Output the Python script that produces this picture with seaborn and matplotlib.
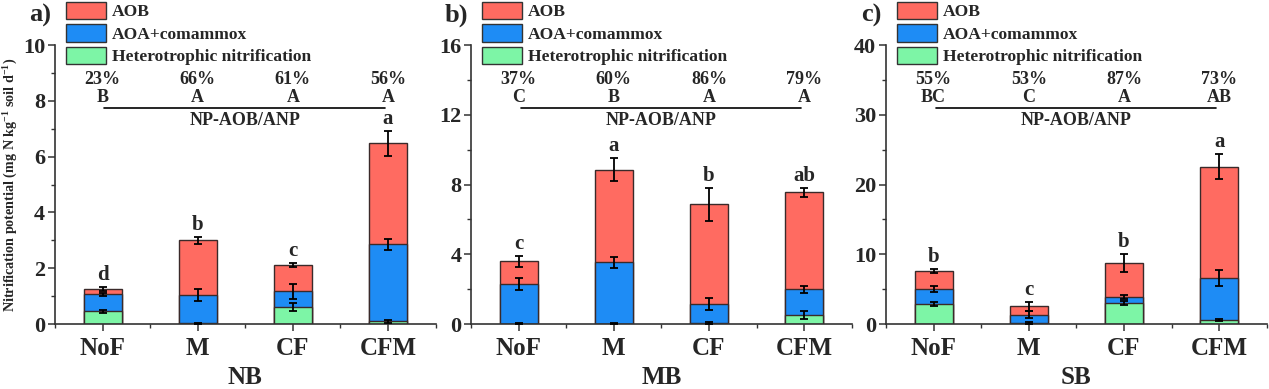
import numpy as np
import pandas as pd
import matplotlib
matplotlib.use("Agg")
import matplotlib.pyplot as plt
import seaborn as sns
from matplotlib.patches import Patch

# theme first, fonts after (set_theme resets font.family)
sns.set_theme(style="ticks")
plt.rcParams["font.family"] = ["Liberation Serif", "DejaVu Serif"]
plt.rcParams["font.weight"] = "bold"
plt.rcParams["axes.labelweight"] = "bold"
plt.rcParams["mathtext.default"] = "regular"

# data (segment heights, mg N kg-1 soil d-1)
treatments = ["NoF", "M", "CF", "CFM"]
components = ["AOB", "AOA+comammox", "Heterotrophic nitrification"]

nb_het = [0.46, 0.03, 0.61, 0.10]
nb_aoa = [0.61, 1.01, 0.56, 2.76]
nb_aob = [0.19, 1.96, 0.95, 3.62]
nb_het_err = [0.05, 0.02, 0.15, 0.05]
nb_aoa_err = [0.06, 0.23, 0.26, 0.20]
nb_aob_err = [0.07, 0.12, 0.08, 0.45]

mb_het = [0.02, 0.02, 0.06, 0.52]
mb_aoa = [2.27, 3.52, 1.11, 1.47]
mb_aob = [1.30, 5.31, 5.69, 5.56]
mb_het_err = [0.02, 0.02, 0.04, 0.24]
mb_aoa_err = [0.33, 0.32, 0.35, 0.22]
mb_aob_err = [0.29, 0.67, 0.94, 0.26]

sb_het = [2.87, 0.15, 3.06, 0.57]
sb_aoa = [2.15, 1.19, 0.82, 6.03]
sb_aob = [2.64, 1.20, 4.88, 15.98]
sb_het_err = [0.30, 0.15, 0.30, 0.15]
sb_aoa_err = [0.45, 0.50, 0.25, 1.10]
sb_aob_err = [0.30, 0.65, 1.34, 1.75]

# significance letters and NP-AOB/ANP share
nb_letters = ["d", "b", "c", "a"]
mb_letters = ["c", "a", "b", "ab"]
sb_letters = ["b", "c", "b", "a"]
nb_pct = ["23%", "66%", "61%", "56%"]
mb_pct = ["37%", "60%", "86%", "79%"]
sb_pct = ["55%", "53%", "87%", "73%"]
nb_grp = ["B", "A", "A", "A"]
mb_grp = ["C", "B", "A", "A"]
sb_grp = ["BC", "C", "A", "AB"]

colors = {"AOB": "#FF6B61", "AOA+comammox": "#1E8CF5",
          "Heterotrophic nitrification": "#7DF5A6"}

panels = [
    ("a)", "NB", nb_het, nb_aoa, nb_aob, nb_het_err, nb_aoa_err, nb_aob_err,
     nb_letters, nb_pct, nb_grp, 10, 2),
    ("b)", "MB", mb_het, mb_aoa, mb_aob, mb_het_err, mb_aoa_err, mb_aob_err,
     mb_letters, mb_pct, mb_grp, 16, 4),
    ("c)", "SB", sb_het, sb_aoa, sb_aob, sb_het_err, sb_aoa_err, sb_aob_err,
     sb_letters, sb_pct, sb_grp, 40, 10),
]

fig = plt.figure(figsize=(12.69, 3.89), dpi=100)
lefts = [0.0433, 0.3712, 0.6982]
width = 0.300

for k, (tag, site, het, aoa, aob, het_e, aoa_e, aob_e,
        letters, pct, grp, ymax, ystep) in enumerate(panels):

    ax = fig.add_axes([lefts[k], 0.167, width, 0.717])

    # cumulative tops of each stacked segment
    top_het = np.array(het)
    top_aoa = top_het + np.array(aoa)
    top_aob = top_aoa + np.array(aob)

    df = pd.DataFrame({
        "treatment": treatments * 3,
        "component": np.repeat(components, 4),
        "top": np.concatenate([top_aob, top_aoa, top_het]),
    })

    # draw the totals first, smaller cumulative bars on top -> stacked look
    sns.barplot(data=df, x="treatment", y="top", hue="component",
                order=treatments, hue_order=components, palette=colors,
                saturation=1, dodge=False, width=0.4, errorbar=None,
                legend=False, edgecolor="#3a2a2a", linewidth=1.0, ax=ax)

    xpos = np.arange(len(treatments))
    for tops, errs in [(top_het, het_e), (top_aoa, aoa_e), (top_aob, aob_e)]:
        ax.errorbar(xpos, tops, yerr=errs, fmt="none", ecolor="black",
                    elinewidth=1.3, capsize=3, capthick=1.3, zorder=5)

    # letters above the bars
    for i, lab in enumerate(letters):
        ax.annotate(lab, (xpos[i], top_aob[i] + aob_e[i]), xytext=(0, 5),
                    textcoords="offset points", ha="center", va="baseline",
                    fontsize=15, fontweight="bold")

    # NP-AOB/ANP block
    trans = ax.get_xaxis_transform()
    for i in range(len(treatments)):
        ax.text(xpos[i], 0.878, pct[i], transform=trans, ha="center",
                va="center", fontsize=13)
        ax.text(xpos[i], 0.813, grp[i], transform=trans, ha="center",
                va="center", fontsize=13)
    ax.plot([0.02, 2.97], [0.775, 0.775], transform=trans, color="black",
            lw=1.2, clip_on=False)
    ax.text(1.5, 0.728, "NP-AOB/ANP", transform=trans, ha="center",
            va="center", fontsize=13)

    ax.set_xlim(-0.5, 3.5)
    ax.set_ylim(0, ymax)
    ax.set_yticks(np.arange(0, ymax + 0.1, ystep))
    ax.set_yticks(np.arange(0, ymax + 0.1, ystep / 2), minor=True)
    ax.set_xticks(np.arange(-0.5, 3.6, 1.0), minor=True)
    ax.tick_params(axis="both", which="major", length=5, width=1.1,
                   direction="out", color="#333333")
    ax.tick_params(axis="both", which="minor", length=3, width=1.0,
                   direction="out", color="#333333")
    ax.tick_params(axis="x", labelsize=18, pad=4)
    ax.tick_params(axis="y", labelsize=16, pad=2)
    sns.despine(ax=ax)
    for s in ["left", "bottom"]:
        ax.spines[s].set_linewidth(1.2)
        ax.spines[s].set_color("#333333")

    ax.set_xlabel(site, fontsize=18, labelpad=5)
    if k == 0:
        ax.set_ylabel(r"Nitrification potential (mg N kg$^{-1}$ soil d$^{-1}$)",
                      fontsize=10.2, labelpad=2)
    else:
        ax.set_ylabel("")

    handles = [Patch(facecolor=colors[c], edgecolor="#333333", linewidth=1.0)
               for c in components]
    ax.legend(handles, components, loc="upper left",
              bbox_to_anchor=(0.03, 1.155), frameon=False, fontsize=12.6,
              handlelength=2.25, handleheight=1.14, labelspacing=0.22,
              handletextpad=0.35, borderpad=0, borderaxespad=0)

    fig.text(lefts[k] - 0.0115, 0.961, tag, fontsize=19, fontweight="bold",
             ha="center", va="center")

fig.savefig("out.png", dpi=100)
